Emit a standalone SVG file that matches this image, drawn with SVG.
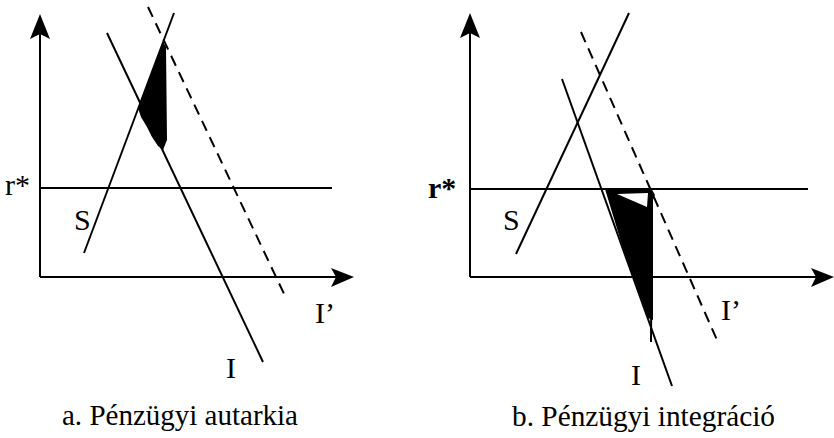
<svg xmlns="http://www.w3.org/2000/svg" width="834" height="438" viewBox="0 0 834 438">
<style>
.ln{stroke:#000;stroke-width:2;fill:none;stroke-linecap:butt}
.ds{stroke:#000;stroke-width:2;fill:none;stroke-dasharray:11 7}
.sh{fill:#000;stroke:none}
.t{font-family:"Liberation Serif","Times New Roman",serif;font-size:30px;fill:#000}
.cap{font-family:"Liberation Serif","Times New Roman",serif;font-size:30px;fill:#000}
</style>
<rect width="834" height="438" fill="#fff"/>
<g id="panel-a">
  <g id="a-axes">
    <line class="ln" x1="40" y1="277" x2="40" y2="30"/>
    <path class="sh" d="M40,14 L50,39 L40,34 L30,39 Z"/>
    <line class="ln" x1="40" y1="277" x2="340" y2="277"/>
    <path class="sh" d="M354,277 L331,268 L336,277 L331,287 Z"/>
  </g>
  <g id="a-rstar"><line class="ln" x1="40" y1="188" x2="332" y2="188"/><text class="t" x="5" y="195">r*</text></g>
  <g id="a-shade"><path class="sh" d="M163,42 L166,47 L167,140 L163,150 L158,146 L152,137 L147,127 L141,117 L138,108 L140,103 Z"/></g>
  <g id="a-S"><line class="ln" x1="84" y1="253" x2="174" y2="13"/><text class="t" x="74" y="230">S</text></g>
  <g id="a-I"><line class="ln" x1="107" y1="33" x2="263" y2="362"/><text class="t" x="226" y="378">I</text></g>
  <g id="a-Iprime"><line class="ds" x1="148" y1="7" x2="286" y2="298"/><text class="t" x="315" y="323">I’</text></g>
  <text id="a-caption" class="cap" x="62" y="425" textLength="236" lengthAdjust="spacingAndGlyphs">a. Pénzügyi autarkia</text>
</g>
<g id="panel-b">
  <g id="b-axes">
    <line class="ln" x1="470" y1="277" x2="470" y2="30"/>
    <path class="sh" d="M470,13 L480,38 L470,33 L460,38 Z"/>
    <line class="ln" x1="470" y1="277" x2="818" y2="277"/>
    <path class="sh" d="M834,277 L811,268 L816,277 L811,287 Z"/>
  </g>
  <g id="b-rstar"><line class="ln" x1="470" y1="189" x2="808" y2="189"/><text class="t" x="428" y="198" font-weight="bold">r*</text></g>
  <g id="b-shade">
    <path class="sh" fill-rule="evenodd" d="M605,189 L651,188 L655,195 L653,200 L653,320 L648,318 L622,245 Z M617,194 L648,193 L647,207 Z"/>
    <line class="ln" x1="652" y1="195" x2="651" y2="342"/>
  </g>
  <g id="b-S"><line class="ln" x1="516" y1="254" x2="629" y2="13"/><text class="t" x="503" y="230">S</text></g>
  <g id="b-I"><line class="ln" x1="562" y1="79" x2="672" y2="386"/><text class="t" x="631" y="385">I</text></g>
  <g id="b-Iprime"><line class="ds" x1="581" y1="32" x2="717" y2="340"/><text class="t" x="721" y="320">I’</text></g>
  <text id="b-caption" class="cap" x="512" y="426" textLength="263" lengthAdjust="spacingAndGlyphs">b. Pénzügyi integráció</text>
</g>
</svg>
